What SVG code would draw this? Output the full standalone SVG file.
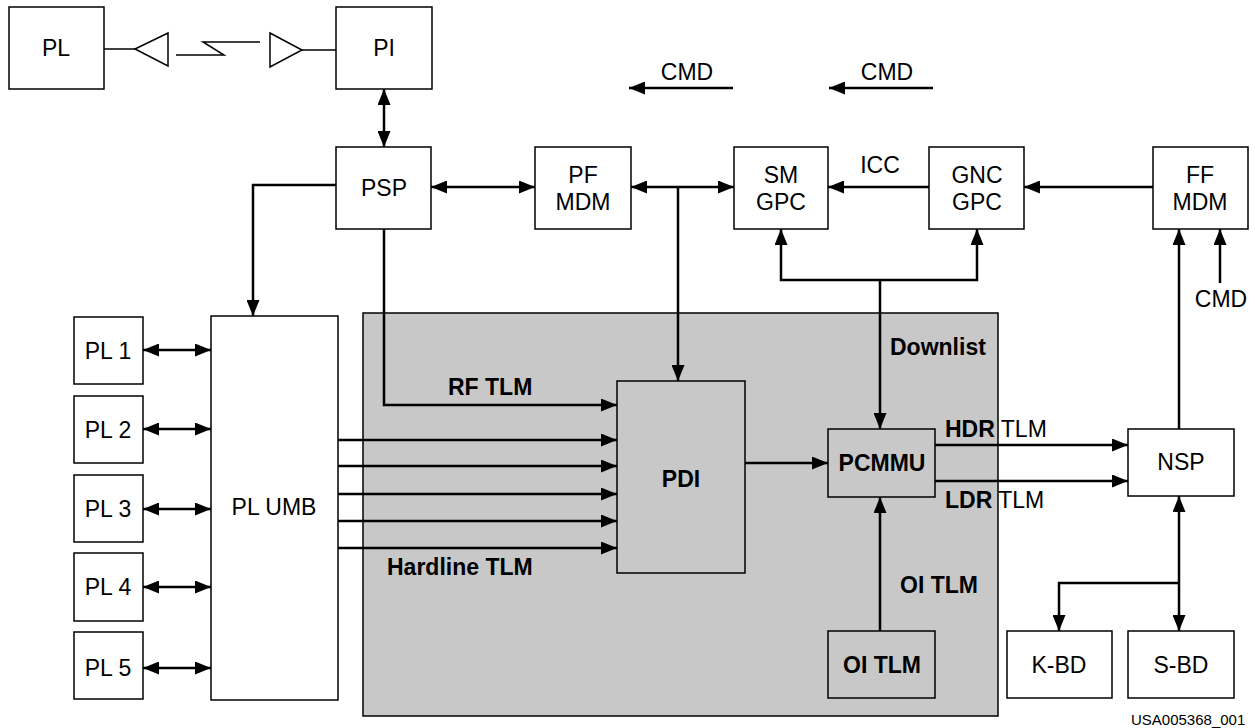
<svg xmlns="http://www.w3.org/2000/svg" width="1255" height="728" viewBox="0 0 1255 728">
<defs>
<marker id="ah" markerUnits="userSpaceOnUse" markerWidth="16" markerHeight="13" refX="16" refY="6.5" orient="auto-start-reverse">
<path d="M0,0 L16,6.5 L0,13 z" fill="#000"/>
</marker>
<style>
.box{fill:#fff;stroke:#000;stroke-width:1.5}
.gbox{fill:#c8c8c8;stroke:#000;stroke-width:1.5}
.t{font-family:"Liberation Sans",Arial,sans-serif;font-size:23px;fill:#000}
.c{text-anchor:middle}
.b{font-weight:bold}
.ln{fill:none;stroke:#000;stroke-width:2.5}
.thin{fill:none;stroke:#000;stroke-width:1.5}
.a{marker-end:url(#ah)}
.aa{marker-start:url(#ah);marker-end:url(#ah)}
</style>
</defs>
<rect width="1255" height="728" fill="#fff"/>

<g id="shaded-area"><rect class="gbox" x="363" y="313" width="635" height="403"/></g>

<g id="PL"><rect class="box" x="9" y="7" width="95" height="82"/><text class="t c" x="56" y="56">PL</text></g>
<g id="PI"><rect class="box" x="336" y="7" width="96" height="82"/><text class="t c" x="384" y="56">PI</text></g>
<g id="link">
<line class="thin" x1="104" y1="49" x2="135" y2="49"/>
<polygon class="thin" points="135,49 168,33 168,66" fill="#fff"/>
<polyline class="thin" points="176,55 224,55 203,42 260,42"/>
<polygon class="thin" points="270,33 302,50 270,67" fill="#fff"/>
<line class="thin" x1="302" y1="50" x2="336" y2="50"/>
</g>
<g id="PSP"><rect class="box" x="336" y="147" width="95" height="82"/><text class="t c" x="384" y="196">PSP</text></g>
<g id="PF-MDM"><rect class="box" x="535" y="147" width="96" height="82"/><text class="t c" x="583" y="183">PF</text><text class="t c" x="583" y="210">MDM</text></g>
<g id="SM-GPC"><rect class="box" x="734" y="147" width="94" height="82"/><text class="t c" x="781" y="183">SM</text><text class="t c" x="781" y="210">GPC</text></g>
<g id="GNC-GPC"><rect class="box" x="929" y="147" width="95" height="82"/><text class="t c" x="977" y="183">GNC</text><text class="t c" x="977" y="210">GPC</text></g>
<g id="FF-MDM"><rect class="box" x="1153" y="147" width="95" height="82"/><text class="t c" x="1200" y="183">FF</text><text class="t c" x="1200" y="210">MDM</text></g>

<g id="PL1"><rect class="box" x="74" y="317" width="69" height="67"/><text class="t c" x="108" y="359">PL 1</text></g>
<g id="PL2"><rect class="box" x="74" y="396" width="69" height="67"/><text class="t c" x="108" y="438">PL 2</text></g>
<g id="PL3"><rect class="box" x="74" y="475" width="69" height="67"/><text class="t c" x="108" y="517">PL 3</text></g>
<g id="PL4"><rect class="box" x="74" y="553" width="69" height="68"/><text class="t c" x="108" y="595">PL 4</text></g>
<g id="PL5"><rect class="box" x="74" y="632" width="69" height="67"/><text class="t c" x="108" y="676">PL 5</text></g>
<g id="PL-UMB"><rect class="box" x="211" y="316" width="127" height="384"/><text class="t c" x="274" y="515">PL UMB</text></g>

<g id="PDI"><rect class="gbox" x="617" y="381" width="128" height="192"/><text class="t c b" x="681" y="487">PDI</text></g>
<g id="PCMMU"><rect class="gbox" x="828" y="429" width="107" height="68"/><text class="t c b" x="882" y="471">PCMMU</text></g>
<g id="OI-TLM"><rect class="gbox" x="828" y="631" width="107" height="67"/><text class="t c b" x="882" y="673">OI TLM</text></g>
<g id="NSP"><rect class="box" x="1128" y="429" width="106" height="67"/><text class="t c" x="1181" y="470">NSP</text></g>
<g id="K-BD"><rect class="box" x="1007" y="631" width="105" height="67"/><text class="t c" x="1059" y="673">K-BD</text></g>
<g id="S-BD"><rect class="box" x="1128" y="631" width="106" height="67"/><text class="t c" x="1181" y="673">S-BD</text></g>

<g id="connectors">
<line class="ln aa" x1="384" y1="89" x2="384" y2="147"/>
<line class="ln aa" x1="431" y1="187" x2="535" y2="187"/>
<line class="ln aa" x1="631" y1="187" x2="734" y2="187"/>
<line class="ln a" x1="678" y1="187" x2="678" y2="381"/>
<line class="ln a" x1="929" y1="187" x2="828" y2="187"/>
<line class="ln a" x1="1153" y1="187" x2="1024" y2="187"/>
<line class="ln a" x1="733" y1="88" x2="629" y2="88"/>
<line class="ln a" x1="933" y1="88" x2="829" y2="88"/>
<polyline class="ln a" points="336,185 253,185 253,316"/>
<polyline class="ln a" points="384,229 384,405 617,405"/>
<line class="ln aa" x1="143" y1="350" x2="211" y2="350"/>
<line class="ln aa" x1="143" y1="429" x2="211" y2="429"/>
<line class="ln aa" x1="143" y1="509" x2="211" y2="509"/>
<line class="ln aa" x1="143" y1="587" x2="211" y2="587"/>
<line class="ln aa" x1="143" y1="668" x2="211" y2="668"/>
<line class="ln a" x1="338" y1="440" x2="617" y2="440"/>
<line class="ln a" x1="338" y1="466" x2="617" y2="466"/>
<line class="ln a" x1="338" y1="494" x2="617" y2="494"/>
<line class="ln a" x1="338" y1="521" x2="617" y2="521"/>
<line class="ln a" x1="338" y1="548" x2="617" y2="548"/>
<line class="ln a" x1="745" y1="463" x2="828" y2="463"/>
<polyline class="ln aa" points="781,229 781,280 977,280 977,229"/>
<line class="ln a" x1="880" y1="280" x2="880" y2="429"/>
<line class="ln a" x1="880" y1="631" x2="880" y2="497"/>
<line class="ln a" x1="935" y1="445" x2="1128" y2="445"/>
<line class="ln a" x1="935" y1="481" x2="1128" y2="481"/>
<line class="ln a" x1="1179" y1="429" x2="1179" y2="229"/>
<line class="ln a" x1="1220" y1="283" x2="1220" y2="229"/>
<line class="ln aa" x1="1179" y1="496" x2="1179" y2="631"/>
<polyline class="ln a" points="1179,583 1059,583 1059,631"/>
</g>

<g id="labels">
<text class="t c" x="687" y="80">CMD</text>
<text class="t c" x="887" y="80">CMD</text>
<text class="t c" x="880" y="173">ICC</text>
<text class="t c" x="1221" y="307">CMD</text>
<text class="t b" x="890" y="355">Downlist</text>
<text class="t b" x="448" y="395">RF TLM</text>
<text class="t b" x="387" y="575">Hardline TLM</text>
<text class="t" x="945" y="437"><tspan class="b">HDR</tspan> TLM</text>
<text class="t" x="945" y="508"><tspan class="b">LDR</tspan> TLM</text>
<text class="t b" x="900" y="593">OI TLM</text>
<text class="t" x="1131" y="725" style="font-size:15px">USA005368_001</text>
</g>
</svg>
